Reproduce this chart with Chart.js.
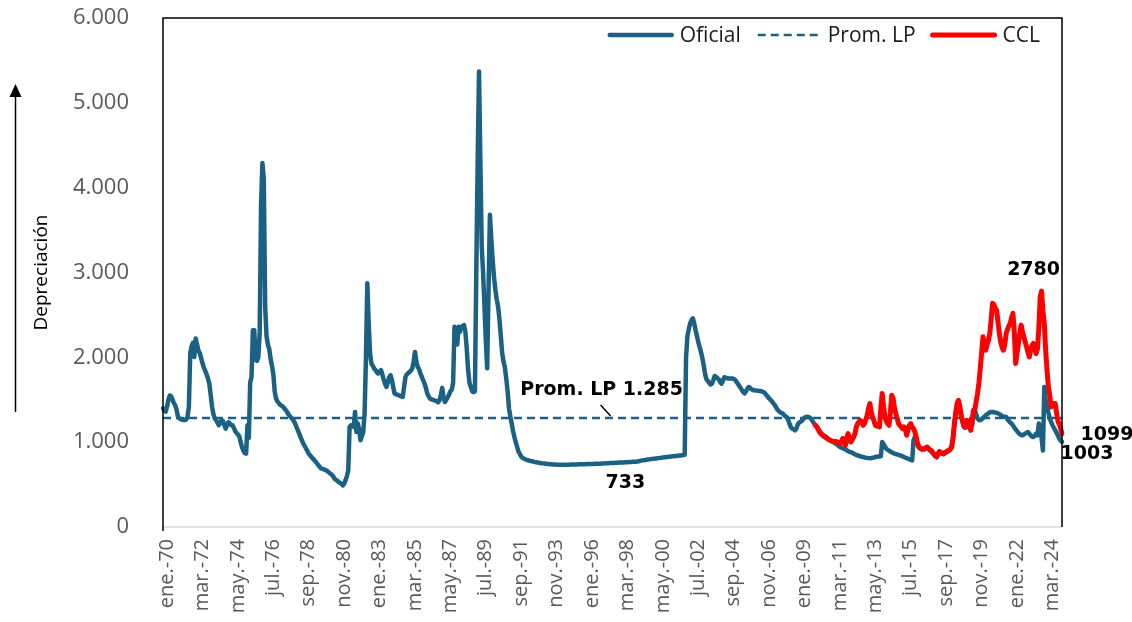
<!DOCTYPE html>
<html>
<head>
<meta charset="utf-8">
<script src="https://cdn.jsdelivr.net/npm/chart.js@4.4.1/dist/chart.umd.min.js"></script>
<style>
html,body{margin:0;padding:0;background:#fff;}
#wrap{width:1132px;height:622px;position:relative;}
</style>
</head>
<body>
<div id="wrap"><canvas id="c" width="1132" height="622"></canvas></div>
<script>
// ---------- DATA ----------
const monthNames = ['ene.','feb.','mar.','abr.','may.','jun.','jul.','ago.','sep.','oct.','nov.','dic.'];
const startYear = 1970;          // first month: ene.-70
const tickEvery = 26;            // one tick label every 26 months

// Tipo de cambio real "Oficial" (monthly, ene.-70 .. ene.-25)
const oficial = [
/*1970*/ 1400,1370,1360,1420,1500,1550,1540,1500,1460,1435,1380,1300,
/*1971*/ 1280,1270,1265,1262,1262,1265,1300,1415,2050,2130,2170,2005,
/*1972*/ 2222,2150,2080,2050,1990,1930,1880,1840,1800,1750,1690,1560,
/*1973*/ 1420,1330,1280,1258,1230,1200,1230,1260,1250,1200,1160,1200,
/*1974*/ 1235,1220,1200,1199,1170,1130,1110,1090,1070,1000,943,900,
/*1975*/ 870,865,1200,1050,1700,1770,2320,2320,1970,1960,2000,2300,
/*1976*/ 3800,4290,4100,2600,2250,2150,2100,1980,1900,1800,1600,1514,
/*1977*/ 1480,1460,1440,1430,1420,1400,1380,1360,1330,1310,1290,1275,
/*1978*/ 1250,1220,1180,1140,1100,1060,1020,985,955,925,895,865,
/*1979*/ 845,825,805,790,770,750,730,710,690,685,680,672,
/*1980*/ 667,655,640,628,615,595,569,555,545,530,520,510,
/*1981*/ 490,510,549,600,667,1180,1199,1190,1179,1356,1120,1219,
/*1982*/ 1150,1022,1070,1120,1337,2000,2872,2400,2050,1927,1900,1868,
/*1983*/ 1850,1825,1809,1830,1848,1800,1740,1690,1651,1700,1760,1789,
/*1984*/ 1740,1650,1573,1565,1560,1553,1545,1540,1533,1650,1769,1800,
/*1985*/ 1815,1828,1845,1868,1950,2064,1950,1887,1860,1809,1770,1730,
/*1986*/ 1691,1640,1573,1540,1514,1505,1500,1494,1490,1480,1470,1494,
/*1987*/ 1560,1640,1520,1474,1500,1530,1560,1600,1620,1700,2360,2300,
/*1988*/ 2150,2360,2300,2360,2370,2380,2300,2100,1850,1700,1650,1600,
/*1989*/ 1590,1600,3000,4300,5370,4300,3300,3000,2600,2200,1870,2800,
/*1990*/ 3680,3400,3150,2950,2800,2680,2600,2450,2250,2050,1950,1880,
/*1991*/ 1750,1600,1400,1300,1220,1130,1060,1000,940,890,860,830,
/*1992*/ 815,805,798,792,787,782,778,775,770,766,763,760,
/*1993*/ 757,755,752,750,748,746,744,742,740,739,738,737,
/*1994*/ 736,735,734,733,733,733,734,733,733,734,735,736,
/*1995*/ 736,737,737,738,738,739,739,740,740,741,741,742,
/*1996*/ 742,743,743,744,744,745,745,746,746,747,748,749,
/*1997*/ 750,751,752,752,753,754,755,755,756,757,758,759,
/*1998*/ 760,760,761,762,763,764,765,766,767,768,769,770,
/*1999*/ 772,775,778,782,785,788,790,793,795,797,800,802,
/*2000*/ 804,806,808,810,812,815,817,819,821,823,825,827,
/*2001*/ 829,831,833,835,836,838,840,842,844,846,848,852,
/*2002*/ 2000,2250,2330,2400,2440,2460,2400,2320,2250,2180,2120,2060,
/*2003*/ 1990,1900,1800,1740,1720,1700,1680,1690,1730,1780,1770,1755,
/*2004*/ 1740,1710,1690,1720,1765,1760,1755,1750,1750,1752,1750,1745,
/*2005*/ 1735,1712,1690,1665,1640,1615,1590,1575,1600,1630,1650,1640,
/*2006*/ 1625,1615,1612,1610,1608,1605,1604,1600,1595,1590,1575,1555,
/*2007*/ 1535,1515,1500,1480,1460,1440,1415,1385,1370,1355,1345,1337,
/*2008*/ 1320,1305,1295,1260,1215,1175,1160,1150,1140,1160,1210,1230,
/*2009*/ 1240,1250,1270,1290,1297,1300,1295,1290,1270,1245,1220,1199,
/*2010*/ 1180,1160,1130,1110,1090,1081,1070,1061,1045,1030,1020,1010,
/*2011*/ 1002,990,982,970,955,943,935,928,923,915,905,895,
/*2012*/ 885,883,875,865,858,850,843,838,833,828,825,820,
/*2013*/ 817,815,812,810,812,817,820,825,828,830,832,833,
/*2014*/ 1002,975,950,923,910,900,890,880,872,865,860,855,
/*2015*/ 850,845,840,832,825,817,812,805,798,792,785,1022,
/*2016*/ 1061,1040,975,935,922,915,915,915,928,935,918,902,
/*2017*/ 896,872,852,832,822,852,882,872,862,857,872,877,
/*2018*/ 892,896,912,935,1040,1210,1340,1440,1470,1400,1300,1240,
/*2019*/ 1180,1170,1180,1200,1219,1180,1200,1330,1376,1330,1280,1260,
/*2020*/ 1258,1270,1285,1300,1317,1330,1340,1350,1356,1356,1352,1348,
/*2021*/ 1346,1340,1330,1320,1310,1300,1300,1297,1270,1250,1230,1219,
/*2022*/ 1200,1170,1150,1130,1110,1095,1085,1081,1090,1100,1110,1120,
/*2023*/ 1100,1080,1065,1061,1080,1101,1080,1219,1180,1050,903,1651,
/*2024*/ 1500,1420,1350,1280,1240,1200,1170,1140,1110,1080,1040,1020,
/*2025*/ 1003
];

// Tipo de cambio real "CCL" (monthly, dic.-09 .. ene.-25)
const cclStartLabel = 'dic.-09';
const ccl = [
/*2009*/ 1199,
/*2010*/ 1180,1150,1120,1100,1085,1070,1061,1050,1040,1030,1022,1015,
/*2011*/ 1010,1005,1010,1000,990,982,1010,1042,1000,962,1050,1101,
/*2012*/ 1040,1002,1030,1061,1100,1180,1219,1240,1258,1230,1199,1220,
/*2013*/ 1270,1317,1400,1455,1350,1297,1250,1199,1190,1185,1180,1400,
/*2014*/ 1573,1420,1297,1250,1220,1199,1350,1553,1520,1400,1337,1280,
/*2015*/ 1220,1199,1180,1160,1180,1150,1081,1150,1199,1219,1180,1160,
/*2016*/ 1120,1061,982,943,930,923,923,923,935,943,925,910,
/*2017*/ 904,880,860,840,830,860,890,880,870,865,880,885,
/*2018*/ 900,904,920,943,1050,1219,1350,1455,1494,1420,1317,1250,
/*2019*/ 1190,1180,1258,1250,1180,1140,1250,1376,1380,1480,1573,1700,
/*2020*/ 1868,2050,2242,2150,2084,2150,2200,2281,2450,2636,2620,2580,
/*2021*/ 2557,2420,2281,2180,2120,2084,2150,2281,2330,2370,2400,2470,
/*2022*/ 2518,2300,1927,2050,2163,2280,2380,2300,2242,2180,2124,2060,
/*2023*/ 2005,2080,2140,2163,2100,2045,2100,2350,2714,2780,2550,2400,
/*2024*/ 2084,1850,1651,1550,1415,1440,1455,1455,1350,1250,1210,1160,
/*2025*/ 1099
];

// Promedio de largo plazo
const promLP = 1285;

// Y axis ticks
const yTicks = [0, 1000, 2000, 3000, 4000, 5000, 6000];

// Text annotations (anchored to data)
const notes = [
  { text: 'Prom. LP 1.285', label: 'nov.-96', value: promLP, dx: 0,  dy: -28 },
  { text: '733',            label: 'mar.-98', value: 733,    dx: 2,  dy: 18 },
  { text: '2780',           label: 'oct.-23', value: 2780,   dx: -8, dy: -21 },
  { text: '1099',           label: 'ene.-25', value: 1099,   dx: 45, dy: 1 },
  { text: '1003',           label: 'ene.-25', value: 1003,   dx: 25, dy: 12 }
];

// ---------- BUILD ----------
const labels = oficial.map((_, i) => {
  const yy = (startYear + Math.floor(i / 12)) % 100;
  return monthNames[i % 12] + '-' + String(yy).padStart(2, '0');
});
const cclStart = labels.indexOf(cclStartLabel);
const cclData = labels.map((_, i) => (i >= cclStart && i - cclStart < ccl.length) ? ccl[i - cclStart] : null);
const promData = labels.map(() => promLP);

const BLUE = '#1b6184';
const RED = '#ff0000';
const fmt = v => String(v).replace(/\B(?=(\d{3})+(?!\d))/g, '.');

const PLOT = { left: 163, top: 18, right: 1062, bottom: 527 };

const decor = {
  id: 'decor',
  afterDraw(chart) {
    const ctx = chart.ctx;
    const a = chart.chartArea;
    const xs = chart.scales.x, ys = chart.scales.y;
    ctx.save();
    // frame
    ctx.lineWidth = 1.5;
    ctx.strokeStyle = '#d9d9d9';
    ctx.beginPath(); ctx.moveTo(a.left, a.bottom); ctx.lineTo(a.right, a.bottom); ctx.stroke();
    ctx.strokeStyle = '#000';
    ctx.beginPath();
    ctx.moveTo(a.left, a.bottom + 4); ctx.lineTo(a.left, a.top); ctx.lineTo(a.right, a.top); ctx.lineTo(a.right, a.bottom);
    ctx.stroke();

    // arrow next to the y title
    ctx.lineWidth = 1.5;
    ctx.beginPath(); ctx.moveTo(15.5, 412); ctx.lineTo(15.5, 92); ctx.stroke();
    ctx.fillStyle = '#000';
    ctx.beginPath(); ctx.moveTo(15.5, 84); ctx.lineTo(9.5, 97); ctx.lineTo(21.5, 97); ctx.closePath(); ctx.fill();

    // annotations
    ctx.font = 'bold 19px "DejaVu Sans", Verdana, sans-serif';
    ctx.fillStyle = '#000';
    ctx.textAlign = 'center';
    ctx.textBaseline = 'middle';
    notes.forEach(n => {
      const idx = labels.indexOf(n.label);
      const x = xs.getPixelForValue(idx) + n.dx;
      const y = ys.getPixelForValue(n.value) + n.dy;
      ctx.fillText(n.text, x, y);
    });
    // leader line for Prom. LP
    {
      const idx = labels.indexOf(notes[0].label);
      const x = xs.getPixelForValue(idx);
      const y = ys.getPixelForValue(promLP);
      ctx.lineWidth = 1.5;
      ctx.strokeStyle = '#000';
      ctx.beginPath(); ctx.moveTo(x - 1, y - 13); ctx.lineTo(x + 9, y - 2); ctx.stroke();
    }

    // legend
    const items = [
      { text: 'Oficial', color: BLUE, width: 4.5, dash: [] },
      { text: 'Prom. LP', color: BLUE, width: 2.5, dash: [8, 5] },
      { text: 'CCL', color: RED, width: 5, dash: [] }
    ];
    ctx.font = '21px "Open Sans", sans-serif';
    ctx.textAlign = 'left';
    const sampleW = 66, gapText = 6, gapItem = 15;
    let total = 0;
    items.forEach((it, k) => { it.tw = ctx.measureText(it.text).width; total += sampleW + gapText + it.tw + (k ? gapItem : 0); });
    let x = a.right - 22 - total;
    const ly = a.top + 17;
    items.forEach(it => {
      ctx.strokeStyle = it.color; ctx.lineWidth = it.width; ctx.setLineDash(it.dash); ctx.lineCap = it.dash.length ? 'butt' : 'round';
      ctx.beginPath(); ctx.moveTo(x + 2, ly); ctx.lineTo(x + sampleW - 2, ly); ctx.stroke();
      ctx.setLineDash([]);
      ctx.fillStyle = '#1a1a1a';
      ctx.fillText(it.text, x + sampleW + gapText, ly + 1);
      x += sampleW + gapText + it.tw + gapItem;
    });
    ctx.restore();
  }
};

new Chart(document.getElementById('c'), {
  type: 'line',
  data: {
    labels,
    datasets: [
      { label: 'Oficial', data: oficial, borderColor: BLUE, backgroundColor: BLUE, borderWidth: 4.5,
        pointRadius: 0, tension: 0, order: 1, borderJoinStyle: 'round', borderCapStyle: 'round' },
      { label: 'Prom. LP', data: promData, borderColor: BLUE, backgroundColor: BLUE, borderWidth: 2.5,
        borderDash: [8, 5], pointRadius: 0, order: 2 },
      { label: 'CCL', data: cclData, borderColor: RED, backgroundColor: RED, borderWidth: 5,
        pointRadius: 0, tension: 0, order: 0, borderJoinStyle: 'round', borderCapStyle: 'round' }
    ]
  },
  options: {
    responsive: false,
    devicePixelRatio: 1,
    animation: false,
    layout: { padding: { left: 0, top: PLOT.top, right: 1132 - PLOT.right, bottom: 0 } },
    plugins: { legend: { display: false }, tooltip: { enabled: false } },
    scales: {
      x: {
        type: 'category',
        offset: false,
        grid: { display: false, drawTicks: false },
        border: { display: false },
        afterFit(s) { s.height = 622 - PLOT.bottom; s.paddingLeft = 0; s.paddingRight = 0; },
        ticks: {
          autoSkip: false, maxRotation: 90, minRotation: 90, padding: 12, labelOffset: 4,
          color: '#595959', font: { family: '"Open Sans", sans-serif', size: 20 },
          callback(v, i) { return i % tickEvery === 0 ? labels[i] : null; }
        }
      },
      y: {
        min: yTicks[0], max: yTicks[yTicks.length - 1],
        grid: { display: false, drawTicks: false },
        border: { display: false },
        afterFit(s) { s.width = PLOT.left; s.paddingTop = 0; s.paddingBottom = 0; },
        afterBuildTicks(s) { s.ticks = yTicks.map(v => ({ value: v })); },
        ticks: { padding: 34, color: '#595959', font: { family: '"Open Sans", sans-serif', size: 22 },
          callback: v => fmt(v) },
        title: { display: true, text: 'Depreciación', color: '#000',
          font: { family: '"Open Sans", sans-serif', size: 19 }, padding: { top: 30, bottom: 0 } }
      }
    }
  },
  plugins: [decor]
});
</script>
</body>
</html>
